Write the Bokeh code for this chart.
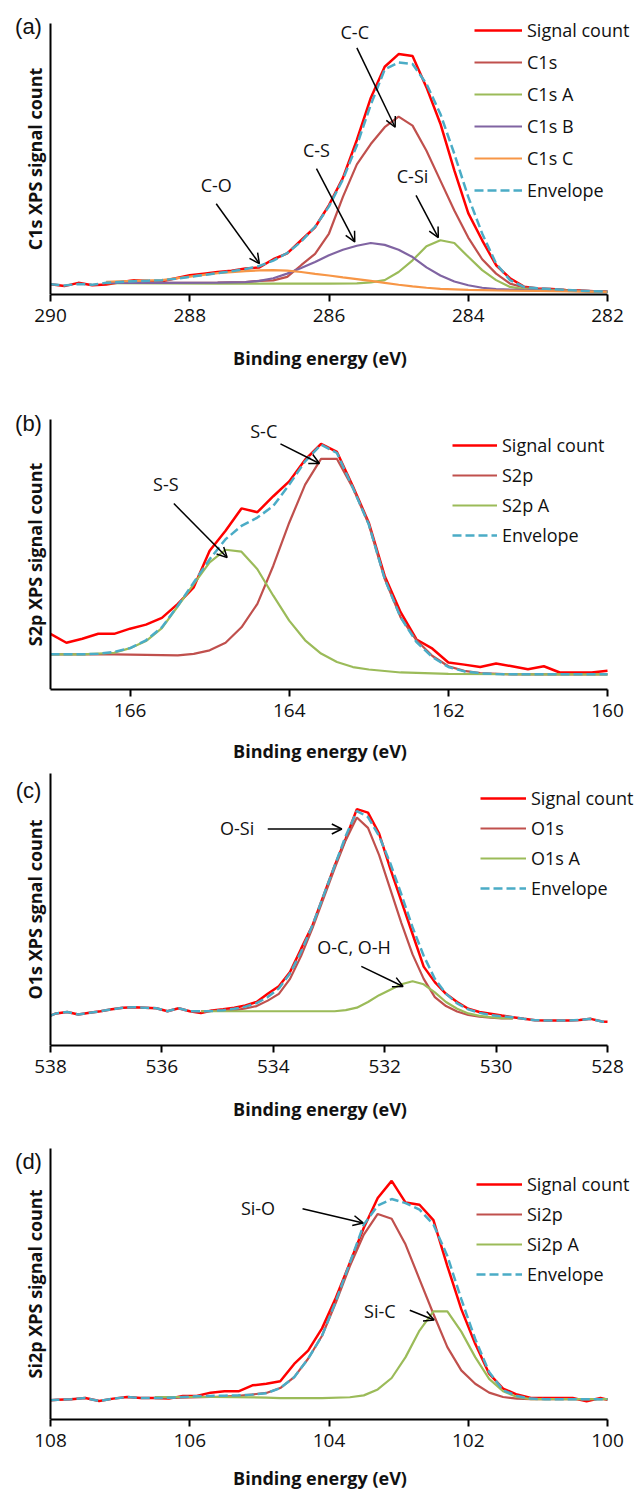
from bokeh.plotting import figure
from bokeh.models import Range1d, FixedTicker, Legend, LegendItem, Label, Arrow, OpenHead
from bokeh.layouts import column
from bokeh.embed import file_html
from bokeh.resources import INLINE

# ---------------- DATA (binding energy in eV, intensity in arbitrary units) ----------------
# Panel (a) C1s
a_sig_x = [290.0, 289.8, 289.6, 289.4, 289.2, 289.0, 288.8, 288.6, 288.4, 288.2, 288.0, 287.8, 287.6, 287.4,
           287.2, 287.0, 286.8, 286.6, 286.4, 286.2, 286.0, 285.8, 285.6, 285.4, 285.2, 285.0, 284.8, 284.6,
           284.4, 284.2, 284.0, 283.8, 283.6, 283.4, 283.2, 283.0, 282.8, 282.6, 282.4, 282.2, 282.0]
a_sig_y = [3.8, 3.1, 4.3, 3.4, 3.7, 4.5, 5.3, 5.0, 4.9, 6.0, 7.1, 7.7, 8.3, 8.8,
           9.6, 10.0, 13.0, 15.2, 20.0, 24.8, 33.0, 43.0, 57.0, 72.5, 84.0, 88.7, 88.0, 76.4,
           63.0, 45.8, 30.0, 20.0, 10.8, 6.0, 2.9, 2.2, 2.0, 1.7, 1.5, 1.2, 1.0]
a_env_x = a_sig_x
a_env_y = [3.8, 3.3, 3.9, 3.6, 4.3, 4.6, 4.9, 5.1, 5.3, 5.8, 6.5, 7.2, 7.9, 8.6,
           9.4, 10.5, 12.5, 15.3, 19.5, 25.0, 32.5, 42.5, 55.0, 70.0, 83.0, 85.6, 85.0, 77.7,
           66.6, 51.9, 36.0, 22.5, 11.4, 5.3, 2.8, 2.3, 2.0, 1.7, 1.4, 1.2, 1.0]
a_c1s_x = [289.2, 288.8, 288.4, 288.0, 287.6, 287.2, 287.0, 286.8, 286.6, 286.4, 286.2, 286.0, 285.8, 285.6,
           285.4, 285.2, 285.0, 284.8, 284.6, 284.4, 284.2, 284.0, 283.8, 283.6, 283.4, 283.2, 283.0, 282.6, 282.0]
a_c1s_y = [4.3, 4.3, 4.3, 4.3, 4.4, 4.6, 5.0, 5.2, 6.5, 10.8, 15.0, 22.5, 36.0, 48.0,
           55.5, 61.7, 65.6, 62.3, 53.0, 42.0, 31.0, 21.0, 13.0, 7.7, 4.0, 2.6, 2.0, 1.6, 1.0]
a_c1sa_x = [289.2, 288.4, 287.6, 286.8, 286.0, 285.6, 285.4, 285.2, 285.0, 284.8, 284.6, 284.4, 284.2, 284.0,
            283.8, 283.6, 283.4, 283.2, 283.0, 282.6, 282.0]
a_c1sa_y = [4.2, 4.1, 4.0, 4.0, 4.0, 4.1, 4.5, 5.3, 8.3, 12.6, 17.8, 20.0, 19.0, 13.9,
            9.0, 5.3, 2.8, 2.0, 1.7, 1.4, 1.0]
a_c1sb_x = [289.2, 288.4, 287.6, 287.2, 287.0, 286.8, 286.6, 286.4, 286.2, 286.0, 285.8, 285.6, 285.4, 285.2,
            285.0, 284.8, 284.6, 284.4, 284.2, 284.0, 283.8, 283.6, 283.2, 282.6, 282.0]
a_c1sb_y = [4.3, 4.3, 4.4, 4.6, 5.0, 6.0, 7.7, 9.8, 12.0, 14.5, 16.5, 18.0, 19.0, 18.3,
            16.5, 13.8, 10.0, 7.0, 4.8, 3.4, 2.5, 2.0, 1.6, 1.3, 1.1]
a_c1sc_x = [289.2, 288.8, 288.4, 288.0, 287.6, 287.2, 287.0, 286.8, 286.6, 286.4, 286.2, 286.0, 285.8, 285.6,
            285.4, 285.2, 285.0, 284.8, 284.6, 284.4, 284.0, 283.6, 283.0, 282.0]
a_c1sc_y = [4.7, 5.0, 5.3, 6.6, 7.9, 8.6, 8.9, 9.0, 8.8, 8.3, 7.6, 7.0, 6.3, 5.7,
            5.0, 4.3, 3.6, 3.0, 2.5, 2.1, 1.7, 1.5, 1.3, 1.0]

# Panel (b) S2p
b_sig_x = [167.0, 166.8, 166.6, 166.4, 166.2, 166.0, 165.8, 165.6, 165.4, 165.2, 165.0, 164.8, 164.6, 164.4,
           164.2, 164.0, 163.8, 163.6, 163.4, 163.2, 163.0, 162.8, 162.6, 162.4, 162.2, 162.0, 161.8, 161.6,
           161.4, 161.2, 161.0, 160.8, 160.6, 160.4, 160.2, 160.0]
b_sig_y = [20.6, 17.3, 18.8, 20.6, 20.6, 22.5, 24.0, 26.5, 31.7, 37.8, 51.3, 58.7, 67.0, 65.6,
           71.5, 77.0, 85.0, 90.9, 87.9, 75.2, 61.7, 42.0, 28.6, 18.5, 15.1, 10.0, 9.2, 8.3,
           9.6, 8.6, 7.5, 8.6, 6.3, 6.3, 6.3, 6.9]
b_env_x = [167.0, 166.8, 166.6, 166.4, 166.2, 166.0, 165.8, 165.6, 165.4, 165.2, 165.0, 164.8, 164.6, 164.4,
           164.2, 164.0, 163.8, 163.6, 163.4, 163.2, 163.0, 162.8, 162.6, 162.4, 162.2, 162.0, 161.8, 161.6,
           161.4, 161.2, 160.8, 160.4, 160.0]
b_env_y = [13.0, 13.0, 13.0, 13.2, 13.9, 15.3, 18.2, 23.0, 31.0, 39.6, 48.2, 55.6, 60.5, 63.6,
           67.9, 75.8, 84.4, 90.6, 87.5, 74.6, 61.1, 40.9, 26.7, 17.5, 12.0, 8.3, 6.7, 6.0,
           5.7, 5.6, 5.6, 5.6, 5.6]
b_s2p_x = [167.0, 166.6, 166.2, 165.8, 165.4, 165.2, 165.0, 164.8, 164.6, 164.4, 164.2, 164.0, 163.8, 163.6,
           163.4, 163.2, 163.0, 162.8, 162.6, 162.4, 162.2, 162.0, 161.8, 161.6, 161.2, 160.6, 160.0]
b_s2p_y = [13.0, 13.0, 13.0, 12.8, 12.6, 13.2, 14.5, 17.3, 23.0, 31.7, 45.8, 61.7, 75.8, 85.3,
           85.3, 74.6, 61.1, 40.9, 26.7, 18.2, 12.4, 8.6, 6.9, 6.1, 5.6, 5.6, 5.6]
b_s2pa_x = [167.0, 166.6, 166.2, 166.0, 165.8, 165.6, 165.4, 165.2, 165.0, 164.8, 164.6, 164.4, 164.2, 164.0,
            163.8, 163.6, 163.4, 163.2, 163.0, 162.6, 162.0, 161.0, 160.0]
b_s2pa_y = [13.0, 13.0, 13.6, 15.3, 17.9, 22.7, 30.8, 39.0, 47.0, 51.7, 51.0, 44.5, 34.7, 25.5,
            18.2, 13.3, 10.2, 8.3, 7.4, 6.3, 5.8, 5.6, 5.6]

# Panel (c) O1s
c_sig_x = [538.0, 537.9, 537.7, 537.5, 537.3, 537.1, 536.9, 536.7, 536.5, 536.3, 536.1, 535.9, 535.7, 535.5,
           535.3, 535.1, 534.9, 534.7, 534.5, 534.3, 534.1, 533.9, 533.7, 533.5, 533.3, 533.1, 532.9, 532.7,
           532.5, 532.3, 532.1, 531.9, 531.7, 531.5, 531.3, 531.1, 530.9, 530.7, 530.5, 530.3, 530.1, 529.9,
           529.7, 529.5, 529.3, 529.1, 528.9, 528.7, 528.5, 528.3, 528.1, 528.0]
c_sig_y = [11.0, 11.8, 12.3, 11.4, 12.0, 12.6, 13.3, 13.9, 14.1, 13.9, 13.7, 12.6, 13.7, 12.6,
           11.9, 12.9, 13.3, 13.9, 14.7, 16.0, 19.0, 21.8, 27.0, 35.6, 44.0, 55.0, 66.0, 76.0,
           86.9, 85.6, 77.9, 65.0, 53.0, 41.0, 29.0, 23.3, 19.0, 16.0, 13.5, 12.3, 11.7, 11.0,
           10.4, 9.8, 9.3, 9.2, 9.2, 9.2, 9.4, 9.8, 8.8, 8.7]
c_env_x = c_sig_x
c_env_y = [11.0, 11.8, 12.3, 11.4, 12.0, 12.6, 13.3, 13.9, 14.1, 13.9, 13.7, 12.6, 13.7, 12.6,
           12.6, 12.7, 13.0, 13.5, 14.3, 15.6, 17.8, 21.0, 26.5, 34.5, 44.0, 55.0, 66.0, 77.0,
           86.2, 84.0, 77.0, 67.0, 55.5, 43.5, 33.0, 24.5, 19.0, 15.5, 13.3, 12.0, 11.2, 10.7,
           10.4, 9.8, 9.3, 9.2, 9.2, 9.2, 9.4, 9.8, 8.8, 8.7]
c_o1s_x = [535.3, 535.1, 534.9, 534.7, 534.5, 534.3, 534.1, 533.9, 533.7, 533.5, 533.3, 533.1, 532.9, 532.7,
           532.5, 532.3, 532.1, 531.9, 531.7, 531.5, 531.3, 531.1, 530.9, 530.7, 530.5, 530.3, 530.1, 529.9, 529.7]
c_o1s_y = [12.6, 12.7, 12.8, 13.0, 13.6, 14.5, 16.5, 19.0, 24.5, 33.0, 43.0, 54.0, 65.0, 75.5,
           83.8, 80.0, 70.0, 57.5, 45.0, 33.5, 24.5, 17.8, 14.5, 12.5, 11.2, 10.6, 10.2, 10.0, 10.0]
c_o1sa_x = [535.3, 534.5, 533.7, 532.9, 532.7, 532.5, 532.3, 532.1, 531.9, 531.7, 531.5, 531.3, 531.1, 530.9,
            530.7, 530.5, 530.3, 530.1, 529.9, 529.7]
c_o1sa_y = [12.6, 12.6, 12.6, 12.6, 13.0, 13.9, 16.0, 18.5, 20.5, 22.5, 23.6, 22.5, 19.5, 16.0,
            13.5, 11.8, 10.9, 10.4, 10.1, 10.0]

# Panel (d) Si2p
d_sig_x = [108.0, 107.9, 107.7, 107.5, 107.3, 107.1, 106.9, 106.7, 106.5, 106.3, 106.1, 105.9, 105.7, 105.5,
           105.3, 105.1, 104.9, 104.7, 104.5, 104.3, 104.1, 103.9, 103.7, 103.5, 103.3, 103.1, 102.9, 102.7,
           102.5, 102.3, 102.1, 101.9, 101.7, 101.5, 101.3, 101.1, 100.9, 100.7, 100.5, 100.3, 100.1, 100.0]
d_sig_y = [7.1, 7.3, 7.5, 7.9, 6.8, 7.7, 8.3, 7.9, 7.9, 7.7, 8.7, 8.7, 9.9, 10.4,
           10.4, 12.6, 13.2, 14.1, 20.5, 25.4, 33.6, 45.0, 57.8, 70.7, 81.7, 88.0, 80.0, 79.2,
           73.5, 56.6, 40.7, 27.9, 16.9, 11.4, 9.2, 7.9, 7.9, 7.9, 7.9, 6.7, 7.9, 7.3]
d_env_x = [108.0, 107.9, 107.7, 107.5, 107.3, 107.1, 106.9, 106.7, 106.5, 106.3, 106.1, 105.9, 105.7, 105.5,
           105.3, 105.1, 104.9, 104.7, 104.5, 104.3, 104.1, 103.9, 103.7, 103.5, 103.3, 103.1, 102.9, 102.7,
           102.5, 102.3, 102.1, 101.9, 101.7, 101.5, 101.3, 101.1, 100.9, 100.5, 100.0]
d_env_y = [7.1, 7.3, 7.5, 7.9, 6.8, 7.7, 8.3, 7.9, 7.9, 8.0, 8.3, 8.6, 8.7, 8.8,
           8.9, 9.2, 9.7, 11.6, 15.6, 22.4, 30.9, 43.8, 57.8, 71.9, 78.9, 81.3, 79.8, 77.4,
           71.9, 60.3, 44.4, 29.7, 17.5, 10.8, 8.7, 7.7, 7.5, 7.5, 7.5]
d_si2p_x = [106.5, 106.1, 105.7, 105.3, 104.9, 104.7, 104.5, 104.3, 104.1, 103.9, 103.7, 103.5, 103.3, 103.1,
            102.9, 102.7, 102.5, 102.3, 102.1, 101.9, 101.7, 101.5, 101.3, 101.1, 100.5, 100.0]
d_si2p_y = [7.9, 8.1, 8.3, 8.7, 9.8, 11.6, 15.6, 22.4, 30.9, 43.2, 56.6, 68.2, 75.8, 74.0,
            64.5, 51.7, 38.9, 26.7, 18.1, 13.2, 9.9, 8.3, 7.7, 7.5, 7.5, 7.5]
d_si2pa_x = [106.5, 105.7, 104.9, 104.7, 104.1, 103.7, 103.5, 103.3, 103.1, 102.9, 102.7, 102.5, 102.3, 102.1,
             101.9, 101.7, 101.5, 101.3, 101.1, 100.5, 100.0]
d_si2pa_y = [8.3, 8.3, 8.1, 7.9, 7.9, 8.2, 8.9, 11.1, 15.3, 23.0, 32.8, 39.9, 39.9, 32.4,
             23.0, 15.0, 10.4, 8.3, 7.5, 7.5, 7.5]

# Axis extents and tick labels
a_axis = (290, 282)
b_axis = (167, 160)
c_axis = (538, 528)
d_axis = (108, 100)
a_ticks = [290, 288, 286, 284, 282]
b_ticks = [166, 164, 162, 160]
c_ticks = [538, 536, 534, 532, 530, 528]
d_ticks = [108, 106, 104, 102, 100]

# Annotations: text, text position, arrow start, arrow end
a_notes = [("C-C", 285.63, 96.7, 285.60, 91.0, 285.05, 61.7),
           ("C-S", 286.18, 53.4, 286.18, 46.4, 285.63, 19.4),
           ("C-O", 287.62, 40.5, 287.62, 33.5, 287.00, 11.4),
           ("C-Si", 284.80, 43.7, 284.75, 36.6, 284.43, 21.0)]
b_notes = [("S-C", 164.32, 95.8, 164.11, 90.9, 163.62, 83.6),
           ("S-S", 165.55, 76.2, 165.45, 68.8, 164.78, 48.8)]
c_notes = [("O-Si", 534.65, 79.8, 534.10, 79.6, 532.77, 79.6),
           ("O-C, O-H", 532.55, 36.2, 532.42, 29.1, 531.67, 21.7)]
d_notes = [("Si-O", 105.02, 78.0, 104.38, 77.7, 103.51, 72.5),
           ("Si-C", 103.27, 40.0, 102.84, 40.3, 102.49, 36.7)]

# ---------------- STYLE ----------------
FONT = "Open Sans"
RED = "#FF0000"
BROWN = "#C0504D"
GREEN = "#9BBB59"
PURPLE = "#8064A2"
ORANGE = "#F79646"
BLUE = "#4BACC6"
TXT = "#111111"

W = 639
AX_LEFT = 50      # pixel position of the axis start
AX_RIGHT = 607    # pixel position of the axis end


def make_panel(letter, axis, ticks, ylabel, series, notes, leg_loc, leg_spacing, glyph_w,
               top, frame_h, bottom, letter_dy, title_standoff):
    a0, a1 = axis
    per_px = (a0 - a1) / (AX_RIGHT - AX_LEFT)
    x_start = a0 + AX_LEFT * per_px
    x_end = a1 - (W - AX_RIGHT) * per_px
    y_top = 100.0 * (top + frame_h) / frame_h
    p = figure(width=W, height=top + frame_h + bottom, output_backend="svg", toolbar_location=None,
               x_range=Range1d(x_start, x_end), y_range=Range1d(0, y_top),
               min_border_left=0, min_border_right=0, min_border_top=0, min_border_bottom=bottom)
    p.outline_line_color = None
    p.grid.visible = False
    p.background_fill_color = "white"

    xa = p.xaxis[0]
    xa.bounds = (a1, a0)
    xa.ticker = FixedTicker(ticks=ticks)
    xa.minor_tick_line_color = None
    xa.major_tick_out = 7
    xa.major_tick_in = 0
    xa.axis_line_width = 2
    xa.major_tick_line_width = 2
    xa.axis_line_color = "black"
    xa.major_tick_line_color = "black"
    xa.major_label_text_font = FONT
    xa.major_label_text_font_size = "19px"
    xa.major_label_text_color = TXT
    xa.major_label_standoff = 7
    xa.axis_label = "Binding energy (eV)"
    xa.axis_label_text_font = FONT
    xa.axis_label_text_font_style = "bold"
    xa.axis_label_text_font_size = "18px"
    xa.axis_label_text_color = TXT
    xa.axis_label_standoff = title_standoff

    ya = p.yaxis[0]
    ya.fixed_location = a0
    ya.bounds = (0, 100)
    ya.ticker = FixedTicker(ticks=[])
    ya.minor_tick_line_color = None
    ya.major_tick_out = 0
    ya.major_tick_in = 0
    ya.major_label_text_font_size = "0px"
    ya.axis_line_width = 2
    ya.axis_line_color = "black"
    ya.axis_label = ylabel
    ya.axis_label_text_font = FONT
    ya.axis_label_text_font_style = "bold"
    ya.axis_label_text_font_size = "18px"
    ya.axis_label_text_color = TXT
    ya.axis_label_standoff = 4

    items = []
    for name, xs, ys, color, width, dash in series:
        r = p.line(xs, ys, line_color=color, line_width=width, line_dash=dash)
        items.append(LegendItem(label=name, renderers=[r]))

    leg = Legend(items=items, location=leg_loc, orientation="vertical", padding=0, margin=0,
                 spacing=leg_spacing, glyph_width=glyph_w, glyph_height=24, label_height=24,
                 label_standoff=5, label_text_font=FONT, label_text_font_size="18px",
                 label_text_color=TXT, border_line_color=None, background_fill_alpha=0)
    p.add_layout(leg, "center")

    for text, tx, ty, x0, y0, x1, y1 in notes:
        p.add_layout(Label(x=tx, y=ty, text=text, text_font=FONT, text_font_size="18px",
                           text_align="center", text_baseline="middle", text_color=TXT))
        p.add_layout(Arrow(x_start=x0, y_start=y0, x_end=x1, y_end=y1, line_color="black", line_width=1.5,
                           end=OpenHead(size=10, line_color="black", line_width=1.5)))

    p.add_layout(Label(x=28, y=letter_dy, x_units="screen", y_units="screen", text=letter,
                       text_font="Liberation Sans", text_font_size="22px", text_align="center",
                       text_baseline="middle", text_color=TXT))
    return p


pa = make_panel("(a)", a_axis, a_ticks, "C1s XPS signal count",
                [("Signal count", a_sig_x, a_sig_y, RED, 2.5, "solid"),
                 ("C1s", a_c1s_x, a_c1s_y, BROWN, 2.2, "solid"),
                 ("C1s A", a_c1sa_x, a_c1sa_y, GREEN, 2.2, "solid"),
                 ("C1s B", a_c1sb_x, a_c1sb_y, PURPLE, 2.2, "solid"),
                 ("C1s C", a_c1sc_x, a_c1sc_y, ORANGE, 2.2, "solid"),
                 ("Envelope", a_env_x, a_env_y, BLUE, 2.5, "9 4")],
                a_notes, (474, 92), 8, 48, 23, 272, 77, 268, 21)

pb = make_panel("(b)", b_axis, b_ticks, "S2p XPS signal count",
                [("Signal count", b_sig_x, b_sig_y, RED, 2.5, "solid"),
                 ("S2p", b_s2p_x, b_s2p_y, BROWN, 2.2, "solid"),
                 ("S2p A", b_s2pa_x, b_s2pa_y, GREEN, 2.2, "solid"),
                 ("Envelope", b_env_x, b_env_y, BLUE, 2.5, "9 4")],
                b_notes, (452, 142), 6, 45, 47, 272, 74, 266, 19)

pc = make_panel("(c)", c_axis, c_ticks, "O1s XPS sgnal count",
                [("Signal count", c_sig_x, c_sig_y, RED, 2.5, "solid"),
                 ("O1s", c_o1s_x, c_o1s_y, BROWN, 2.2, "solid"),
                 ("O1s A", c_o1sa_x, c_o1sa_y, GREEN, 2.2, "solid"),
                 ("Envelope", c_env_x, c_env_y, BLUE, 2.5, "9 4")],
                c_notes, (480, 145), 6, 46, 8, 272, 78, 255, 21)

pd_ = make_panel("(d)", d_axis, d_ticks, "Si2p XPS signal count",
                 [("Signal count", d_sig_x, d_sig_y, RED, 2.5, "solid"),
                  ("Si2p", d_si2p_x, d_si2p_y, BROWN, 2.2, "solid"),
                  ("Si2p A", d_si2pa_x, d_si2pa_y, GREEN, 2.2, "solid"),
                  ("Envelope", d_env_x, d_env_y, BLUE, 2.5, "9 4")],
                 d_notes, (476, 133), 6, 46, 25, 273, 71, 258, 16)

layout = column(pa, pb, pc, pd_, spacing=0)
open("out.html", "w").write(file_html(layout, INLINE))
